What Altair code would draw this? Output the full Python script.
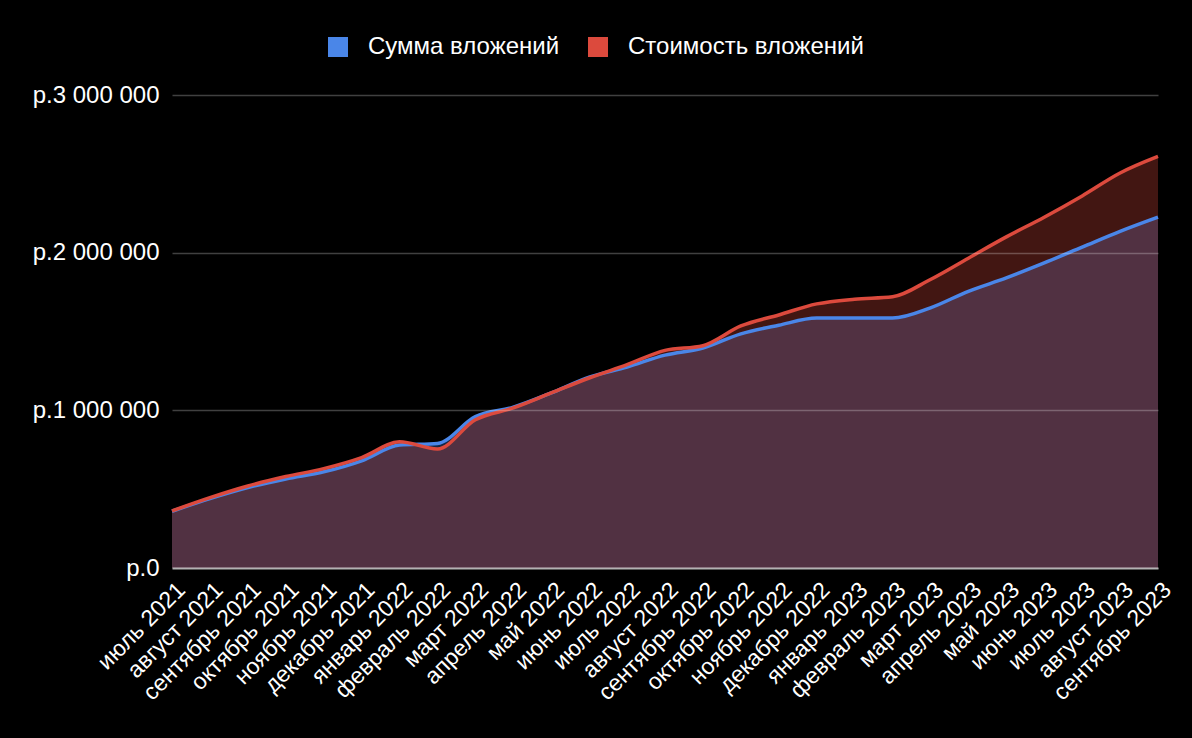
import altair as alt
import pandas as pd

months = ["июль 2021", "август 2021", "сентябрь 2021", "октябрь 2021", "ноябрь 2021", "декабрь 2021",
          "январь 2022", "февраль 2022", "март 2022", "апрель 2022", "май 2022", "июнь 2022",
          "июль 2022", "август 2022", "сентябрь 2022", "октябрь 2022", "ноябрь 2022", "декабрь 2022",
          "январь 2023", "февраль 2023", "март 2023", "апрель 2023", "май 2023", "июнь 2023",
          "июль 2023", "август 2023", "сентябрь 2023"]

invested = [360000, 440000, 510000, 565000, 610000, 680000,
            780000, 790000, 960000, 1020000, 1110000, 1210000,
            1275000, 1350000, 1395000, 1485000, 1540000, 1585000,
            1585000, 1585000, 1650000, 1755000, 1840000, 1935000,
            2035000, 2135000, 2225000]

value = [362000, 446000, 520000, 580000, 630000, 700000,
         800000, 755000, 940000, 1015000, 1110000, 1205000,
         1290000, 1380000, 1410000, 1535000, 1605000, 1675000,
         1705000, 1720000, 1830000, 1965000, 2100000, 2225000,
         2360000, 2505000, 2610000]

series_names = ["Сумма вложений", "Стоимость вложений"]
series_colors = ["#4a86e8", "#dc4a3d"]
y_ticks = [0, 1000000, 2000000, 3000000]
y_tick_labels = ["р.0", "р.1 000 000", "р.2 000 000", "р.3 000 000"]

rows = []
for i, m in enumerate(months):
    rows.append({"month": m, "series": series_names[0], "v": invested[i]})
    rows.append({"month": m, "series": series_names[1], "v": value[i]})
df = pd.DataFrame(rows)

label_expr = ("[" + ",".join(f"'{l}'" for l in y_tick_labels) + "][indexof(["
              + ",".join(str(t) for t in y_ticks) + "], datum.value)]")

FONT = "Liberation Sans"

x_enc = alt.X("month:O", sort=months, scale=alt.Scale(type="point", padding=0),
              axis=alt.Axis(title=None, labelAngle=-45, labelAlign="right", labelBaseline="middle",
                            labelColor="white", labelFontSize=23, labelFont=FONT, ticks=False,
                            domain=True, domainColor="white", domainOpacity=0.6, domainWidth=2,
                            labelPadding=18, labelOffset=9, labelLimit=0, grid=False, zindex=1))
y_enc = alt.Y("v:Q", scale=alt.Scale(domain=[0, 3000000], nice=False),
              axis=alt.Axis(title=None, values=y_ticks, labelExpr=label_expr, labelColor="white",
                            labelFontSize=24, labelFont=FONT, ticks=False, domain=False,
                            gridColor="white", gridOpacity=0.25, gridWidth=1.5, labelPadding=13,
                            zindex=1))
color_scale = alt.Scale(domain=series_names, range=series_colors)

base = alt.Chart(df)

def area_layer(name):
    return base.transform_filter(alt.datum.series == name).mark_area(
        interpolate="monotone", fillOpacity=0.3).encode(
        x=x_enc, y=y_enc,
        color=alt.Color("series:N", scale=color_scale, sort=series_names,
                        legend=alt.Legend(title=None, orient="none", direction="horizontal",
                                          legendX=154, legendY=-60, symbolType="square",
                                          symbolSize=400, symbolOpacity=1, symbolStrokeWidth=0,
                                          labelFontSize=24, labelFont=FONT, labelColor="white",
                                          labelOffset=18, labelLimit=0, columnPadding=26,
                                          padding=0)))

def line_layer(name, col):
    return base.transform_filter(alt.datum.series == name).mark_line(
        interpolate="monotone", strokeWidth=3.5, color=col).encode(x=x_enc, y=y_enc)

chart = alt.layer(
    area_layer(series_names[0]),
    area_layer(series_names[1]),
    line_layer(series_names[0], series_colors[0]),
    line_layer(series_names[1], series_colors[1]),
).properties(
    width=986, height=473,
    autosize=alt.AutoSizeParams(type="none"),
    padding={"left": 172, "top": 95, "right": 34, "bottom": 170},
    background="black",
).configure_view(stroke=None)

chart.save("out.html", embed_options={"renderer": "svg", "actions": False})
